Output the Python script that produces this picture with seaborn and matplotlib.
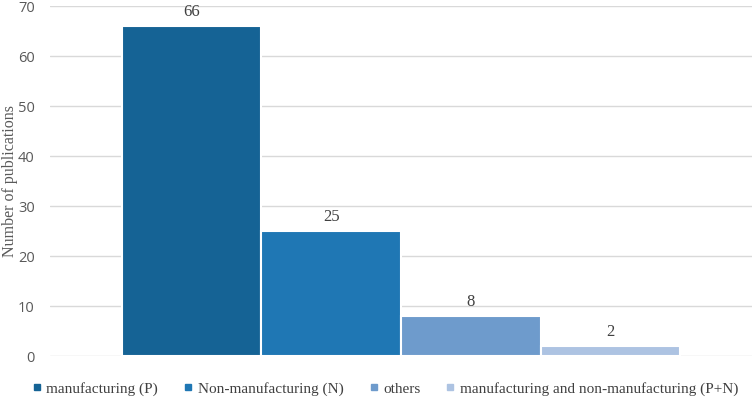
import pandas as pd
import matplotlib.pyplot as plt
import seaborn as sns
from matplotlib.lines import Line2D

# data
categories = ["manufacturing (P)", "Non-manufacturing (N)", "others",
              "manufacturing and non-manufacturing (P+N)"]
counts = [66, 25, 8, 2]
colors = ["#156395", "#1f77b4", "#6e9bcc", "#adc3e2"]

ds = pd.DataFrame({"group": ["all"] * len(categories),
                   "category": categories,
                   "count": counts})

sns.set_style("white")
plt.rcParams["font.family"] = ["Liberation Serif", "DejaVu Serif"]

fig = plt.figure(figsize=(7.54, 3.97), dpi=100)
ax = fig.add_axes([50 / 754, 1 - 356 / 397, 702 / 754, 350 / 397])

sns.barplot(data=ds, x="group", y="count", hue="category", hue_order=categories,
            palette=colors, width=0.795, saturation=1, edgecolor="white",
            linewidth=1.5, legend=False, ax=ax)

for c in ax.containers:
    ax.bar_label(c, padding=4, fontsize=12, color="#404040")

ax.set_ylim(0, 70)
ax.set_yticks(range(0, 71, 10))
ax.yaxis.grid(True, color="#d9d9d9", linewidth=1)
ax.set_axisbelow(True)
for s in ax.spines.values():
    s.set_visible(False)
ax.set_xticks([])
ax.set_xlabel("")
ax.set_ylabel("Number of publications", fontsize=11.5, color="#595959")
ax.yaxis.set_label_coords(-0.046, 0.5)
ax.tick_params(axis="y", length=0, pad=11, labelsize=10.5, labelcolor="#595959")
for t in ax.get_yticklabels():
    t.set_family(["Open Sans", "DejaVu Sans"])

handles = [Line2D([], [], marker="s", linestyle="", markersize=4.5, color=c)
           for c in colors]
fig.legend(handles, categories, loc="center", bbox_to_anchor=(385 / 754, 1 - 389 / 397),
           ncol=4, frameon=False, fontsize=11, handlelength=0.7, handletextpad=0.3,
           columnspacing=1.6, labelcolor="#404040")

plt.savefig("out.png", dpi=100)
